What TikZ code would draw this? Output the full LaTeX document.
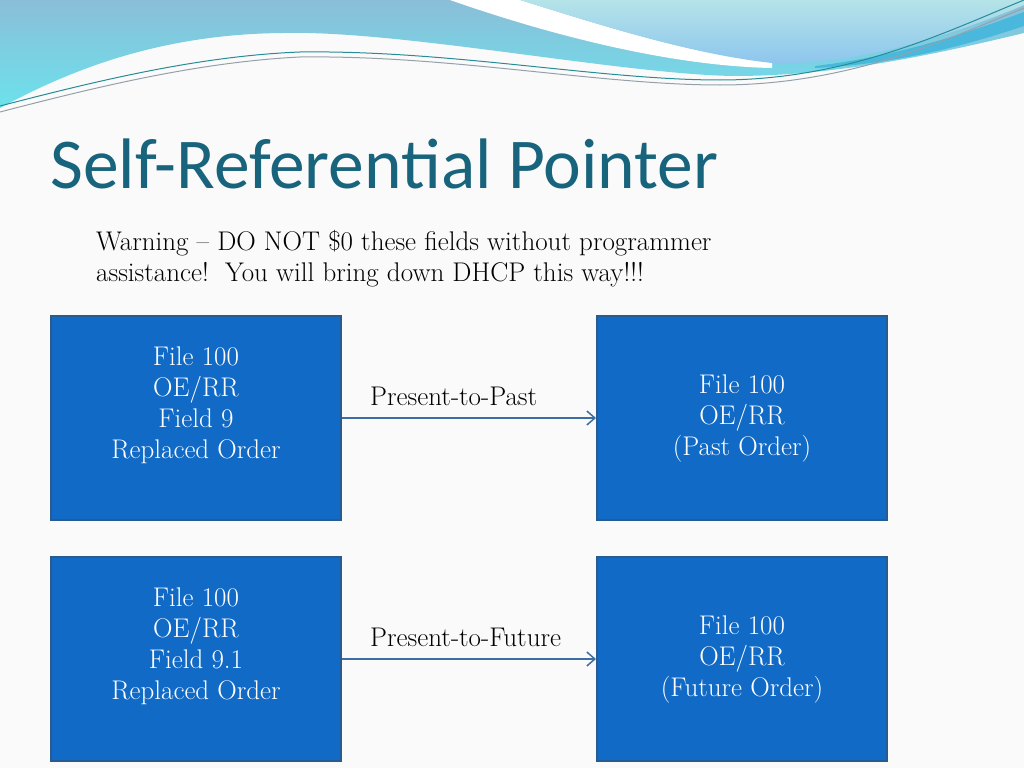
\documentclass[tikz,border=0pt]{standalone}
\usepackage{fontspec}
\newfontfamily\titulofont{Carlito}
\usetikzlibrary{arrows.meta}
\pgfdeclarelayer{fondo}
\pgfsetlayers{fondo,main}
\definecolor{tituloc}{RGB}{24,100,124}
\definecolor{cajac}{RGB}{16,106,198}
\definecolor{bordec}{RGB}{40,92,145}
\definecolor{flechac}{RGB}{60,110,160}
\definecolor{papelc}{RGB}{250,250,250}
\definecolor{ondaarribac}{RGB}{138,190,216}
\definecolor{ondaabajoc}{RGB}{108,226,236}
\definecolor{palidoc}{RGB}{180,228,232}
\definecolor{palidoabajoc}{RGB}{140,196,238}
\definecolor{franjac}{RGB}{74,184,220}
\definecolor{hiloac}{RGB}{40,140,150}
\definecolor{hilobc}{RGB}{150,160,170}
\tikzstyle{caja}=[draw=bordec,fill=cajac,line width=2pt,minimum width=290pt,minimum height=204pt,inner sep=0pt,text=white,align=center,font=\fontsize{27}{31}\selectfont]
\tikzstyle{texto}=[inner sep=0pt,font=\fontsize{27}{31}\selectfont]
\tikzstyle{flecha}=[draw=flechac,line width=1.5pt,-{Straight Barb[length=8pt,width=14pt]}]
\tikzstyle{hilo}=[line width=1pt]

\begin{document}
\begin{tikzpicture}[x=1pt,y=-1pt]
		\useasboundingbox (0,0) rectangle (1024,768);
		\begin{pgfonlayer}{fondo}
			\fill[papelc] (0,0) rectangle (1024,768);
			\shade[top color=ondaarribac,bottom color=ondaabajoc] (0,0)--(1024,0)--(1024,33) .. controls (920,58) and (830,76) .. (733,76) .. controls (620,74) and (400,30) .. (283,33) .. controls (160,34) and (70,70) .. (0,108)--cycle;
			\fill[white] (450,0) .. controls (550,35) and (670,66) .. (772,68)--(772,62) .. controls (690,54) and (600,25) .. (520,0)--cycle;
			\shade[top color=palidoc,bottom color=palidoabajoc] (520,0) .. controls (600,25) and (690,54) .. (772,63) .. controls (860,66) and (960,32) .. (1024,5)--(1024,0)--cycle;
			\fill[franjac] (815,66) .. controls (900,56) and (970,32) .. (1024,12)--(1024,26) .. controls (970,44) and (900,64) .. (815,68)--cycle;
			\draw[hilo,hiloac] (0,106) .. controls (100,80) and (200,56) .. (300,52) .. controls (450,50) and (600,80) .. (720,80) .. controls (850,80) and (950,30) .. (1024,0);
			\draw[hilo,hilobc] (0,112) .. controls (100,86) and (200,62) .. (300,57) .. controls (450,55) and (600,85) .. (720,85) .. controls (850,85) and (950,38) .. (1024,8);
		\end{pgfonlayer}
		\node[anchor=base west,inner sep=0pt,text=tituloc,font=\titulofont\fontsize{71.5}{84}\selectfont] (titulo) at (50,188) {Self-Referential Pointer};
		\node[texto,anchor=base west,align=left] (aviso) at (96,281) {Warning -- DO NOT \$0 these fields without programmer\\assistance!\ \ You will bring down DHCP this way!!!};
		\node[caja] (pres1) at (196,418) {File 100\\OE/RR\\Field 9\\Replaced Order\\\mbox{}};
		\node[caja] (pasado) at (742,418) {File 100\\OE/RR\\(Past Order)};
		\node[caja] (pres2) at (196,659) {File 100\\OE/RR\\Field 9.1\\Replaced Order\\\mbox{}};
		\node[caja] (futuro) at (742,659) {File 100\\OE/RR\\(Future Order)};
		\draw[flecha] (pres1)--(pasado);
		\draw[flecha] (pres2)--(futuro);
		\node[texto,anchor=base west] (lpasado) at (370,405) {Present-to-Past};
		\node[texto,anchor=base west] (lfuturo) at (370,646) {Present-to-Future};
	\end{tikzpicture}
\end{document}
